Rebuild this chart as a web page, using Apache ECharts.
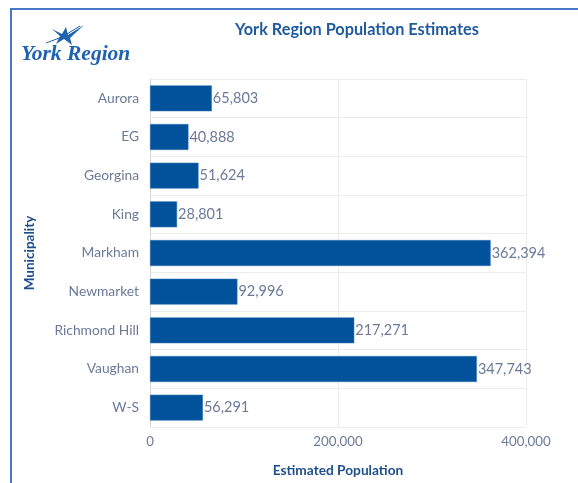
<!DOCTYPE html>
<html><head><meta charset="utf-8">
<script src="https://cdn.jsdelivr.net/npm/echarts@6/dist/echarts.min.js"></script>
<style>html,body{margin:0;padding:0;background:#fff}#c{width:578px;height:483px}</style>
</head><body><div id="c"></div>
<script>
const categories = ['Aurora','EG','Georgina','King','Markham','Newmarket','Richmond Hill','Vaughan','W-S'];
const population = [65803, 40888, 51624, 28801, 362394, 92996, 217271, 347743, 56291];
const xTicks = [0, 200000, 400000];

const chart = echarts.init(document.getElementById('c'));
const font = 'Lato';
chart.setOption({
  animation: false,
  backgroundColor: '#fff',
  title: {
    text: 'York Region Population Estimates',
    left: 230, top: 17,
    textStyle: {fontFamily: font, fontSize: 16.3, fontWeight: 'bold', color: '#1f5a9e'}
  },
  grid: {left: 150, right: 52, top: 79, bottom: 55, containLabel: false},
  xAxis: {
    type: 'value', min: xTicks[0], max: xTicks[xTicks.length-1], interval: 200000,
    name: 'Estimated Population', nameLocation: 'middle', nameGap: 37,
    nameTextStyle: {fontFamily: font, fontSize: 13.7, fontWeight: 'bold', color: '#1f4e8c'},
    axisLine: {show: false}, axisTick: {show: false},
    axisLabel: {fontFamily: font, fontSize: 13.3, color: '#6b7a99', margin: 8,
      formatter: v => v.toLocaleString('en-US')},
    splitLine: {show: true, lineStyle: {color: '#ececec', width: 1}}
  },
  yAxis: {
    type: 'category', data: categories, inverse: true,
    name: 'Municipality', nameLocation: 'middle', nameGap: 113, nameRotate: 90,
    nameTextStyle: {fontFamily: font, fontSize: 13.5, fontWeight: 'bold', color: '#1f4e8c'},
    axisLine: {show: true, lineStyle: {color: '#d9d9d9'}}, axisTick: {show: false},
    axisLabel: {fontFamily: font, fontSize: 13.8, color: '#6b7a99', margin: 11},
    splitLine: {show: true, lineStyle: {color: '#ececec', width: 1}},
    boundaryGap: true
  },
  series: [{
    type: 'bar', data: population, barCategoryGap: '33%',
    itemStyle: {color: '#00529b', borderColor: '#3c79b8', borderWidth: 0.5},
    label: {show: true, position: 'right', distance: 1, fontFamily: font, fontSize: 14.5,
      color: '#6b7a99', formatter: p => p.value.toLocaleString('en-US')}
  }],
  graphic: [
    {type: 'rect', shape: {x: 10, y: 8, width: 2, height: 480}, style: {fill: '#4a78c8'}},
    {type: 'rect', shape: {x: 10, y: 8, width: 568, height: 2}, style: {fill: '#4a78c8'}},
    {type: 'text', left: 21, top: 43, style: {text: 'York Region', font: 'italic bold 21.5px "Liberation Serif"', fill: '#1f63b0'}},
    {type: 'polygon', shape: {points: [[52,29],[62,34],[66,27],[68,35],[84,25],[70,38],[72,45],[64,39],[56,44],[60,36]]}, style: {fill: '#1f63b0'}},
    {type: 'polyline', shape: {points: [[46,43],[62,37],[80,26]]}, style: {stroke: '#1f63b0', lineWidth: 1, fill: 'none'}}
  ]
});
</script></body></html>
